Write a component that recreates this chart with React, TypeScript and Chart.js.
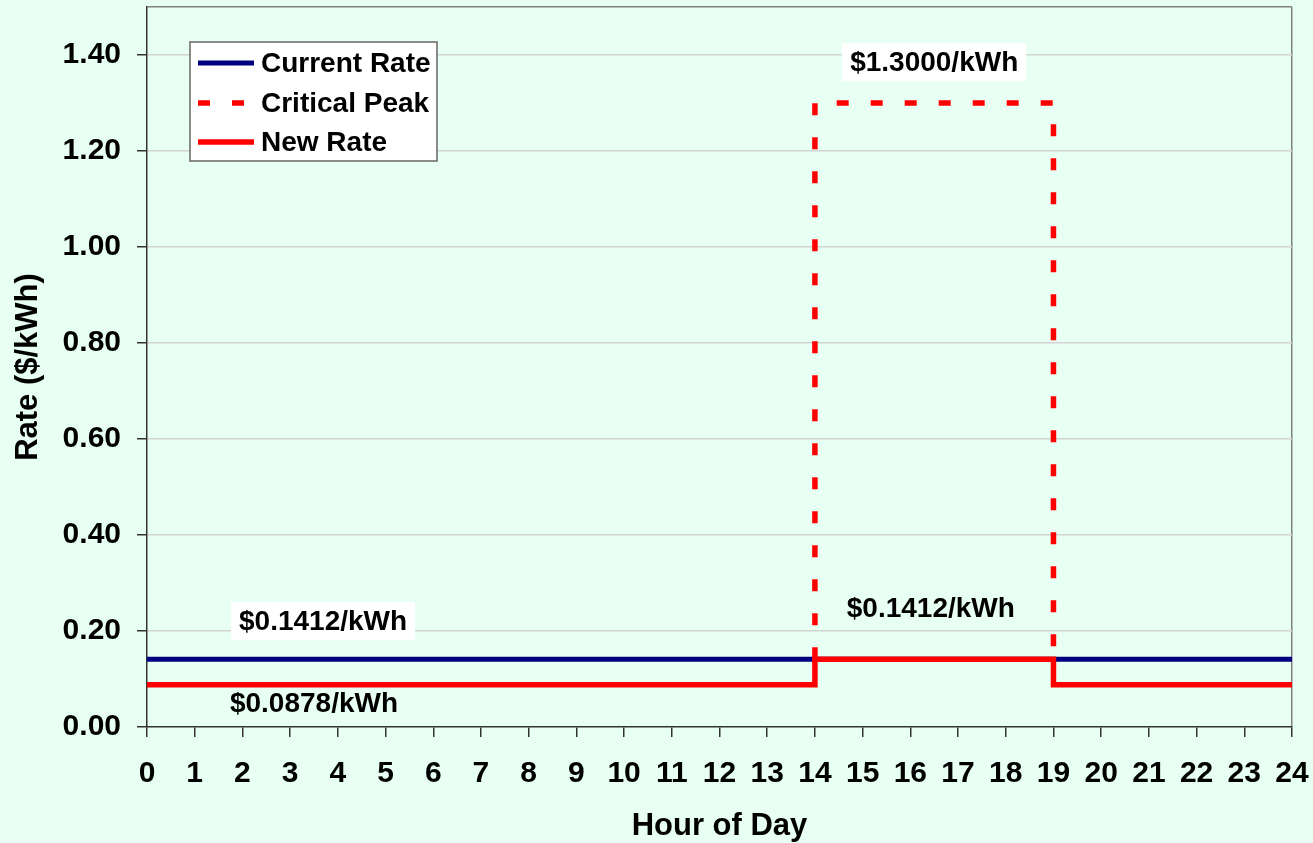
import React, { useEffect, useRef } from "react";
import { Chart, registerables } from "chart.js";

Chart.register(...registerables);

// ---- Data ----
const hourTicks = [0, 1, 2, 3, 4, 5, 6, 7, 8, 9, 10, 11, 12, 13, 14, 15, 16, 17, 18, 19, 20, 21, 22, 23, 24];
const yTicks = [0, 0.2, 0.4, 0.6, 0.8, 1.0, 1.2, 1.4];

const currentRateX = [0, 24];
const currentRateY = [0.1412, 0.1412];

const criticalPeakX = [14, 14, 19, 19];
const criticalPeakY = [0.1412, 1.3, 1.3, 0.1412];

const newRateX = [0, 14, 14, 19, 19, 24];
const newRateY = [0.0878, 0.0878, 0.1412, 0.1412, 0.0878, 0.0878];

const labelTexts = ["$1.3000/kWh", "$0.1412/kWh", "$0.0878/kWh", "$0.1412/kWh"];
const labelX = [16.5, 3.69, 3.5, 16.43];
const labelY = [1.385, 0.221, 0.05, 0.248];
const labelBoxed = [true, true, false, false];

const FONT = "'Liberation Sans', Arial, sans-serif";
const FS_TICK = 30;
const FS_TITLE = 31;
const FS_TEXT = 28;
const BG = "#E8FFF3";

const toPts = (xs: number[], ys: number[]) => xs.map((x, i) => ({ x, y: ys[i] }));

const labelPlugin = {
  id: "valueLabels",
  afterDatasetsDraw(chart: any) {
    const { ctx, scales } = chart;
    ctx.save();
    ctx.font = `bold ${FS_TEXT}px ${FONT}`;
    ctx.textAlign = "center";
    ctx.textBaseline = "middle";
    labelTexts.forEach((t, i) => {
      const px = scales.x.getPixelForValue(labelX[i]);
      const py = scales.y.getPixelForValue(labelY[i]);
      const w = ctx.measureText(t).width;
      if (labelBoxed[i]) {
        ctx.fillStyle = "#ffffff";
        ctx.fillRect(px - w / 2 - 8, py - 19, w + 16, 38);
      }
      ctx.fillStyle = "#000000";
      ctx.fillText(t, px, py + 1);
    });
    ctx.restore();
  },
};

const legendPlugin = {
  id: "boxLegend",
  afterDraw(chart: any) {
    const { ctx, chartArea } = chart;
    const left = chartArea.left + 43;
    const top = chartArea.top + 35;
    const w = 247;
    const h = 119;
    ctx.save();
    ctx.fillStyle = "#ffffff";
    ctx.fillRect(left, top, w, h);
    ctx.strokeStyle = "#666666";
    ctx.lineWidth = 1.5;
    ctx.strokeRect(left, top, w, h);
    const rowsY = [21, 61, 100];
    [0, 1, 2].forEach((di, r) => {
      const ds = chart.data.datasets[di];
      const y = top + rowsY[r];
      ctx.beginPath();
      ctx.strokeStyle = ds.borderColor;
      ctx.lineWidth = ds.borderWidth;
      ctx.setLineDash(ds.borderDash || []);
      ctx.moveTo(left + 8, y);
      ctx.lineTo(left + 64, y);
      ctx.stroke();
      ctx.setLineDash([]);
      ctx.fillStyle = "#000";
      ctx.font = `bold ${FS_TEXT}px ${FONT}`;
      ctx.textAlign = "left";
      ctx.textBaseline = "middle";
      ctx.fillText(ds.label, left + 71, y + 1);
    });
    ctx.restore();
  },
};

const bgPlugin = {
  id: "bg",
  beforeDraw(chart: any) {
    const { ctx, width, height } = chart;
    ctx.save();
    ctx.fillStyle = BG;
    ctx.fillRect(0, 0, width, height);
    ctx.restore();
  },
};

export default function App() {
  const ref = useRef<HTMLCanvasElement | null>(null);

  useEffect(() => {
    document.body.style.margin = "0";
    document.body.style.background = BG;
    if (!ref.current) return;
    const chart = new Chart(ref.current, {
      type: "line",
      data: {
        datasets: [
          {
            label: "Current Rate",
            data: toPts(currentRateX, currentRateY),
            borderColor: "#000080",
            borderWidth: 5,
            pointRadius: 0,
            fill: false,
            order: 3,
          } as any,
          {
            label: "Critical Peak",
            data: toPts(criticalPeakX, criticalPeakY),
            borderColor: "#FF0000",
            borderWidth: 5.5,
            borderDash: [12, 22],
            pointRadius: 0,
            fill: false,
            order: 2,
          },
          {
            label: "New Rate",
            data: toPts(newRateX, newRateY),
            borderColor: "#FF0000",
            borderWidth: 5.5,
            pointRadius: 0,
            fill: false,
            order: 1,
          },
        ],
      },
      options: {
        animation: false,
        responsive: false,
        layout: { padding: { left: 0, right: 21, top: 7, bottom: 0 } },
        plugins: {
          legend: { display: false },
          tooltip: { enabled: false },
        },
        scales: {
          x: {
            type: "linear",
            min: 0,
            max: 24,
            afterBuildTicks: (s: any) => {
              s.ticks = hourTicks.map((v) => ({ value: v }));
            },
            afterFit: (s: any) => {
              s.height = 116;
              s.paddingLeft = 0;
              s.paddingRight = 0;
            },
            ticks: {
              autoSkip: false,
              maxRotation: 0,
              padding: 19,
              color: "#000",
              font: { family: FONT, size: FS_TICK, weight: "bold" },
            },
            grid: {
              drawOnChartArea: true,
              color: (c: any) => (c.tick && c.tick.value === 24 ? "#808080" : "rgba(0,0,0,0)"),
              tickColor: "#333333",
              tickLength: 10,
              lineWidth: 1.5,
            },
            border: { display: true, color: "#333333", width: 1.5 },
            title: {
              display: true,
              text: "Hour of Day",
              color: "#000",
              font: { family: FONT, size: FS_TITLE, weight: "bold", lineHeight: 1.05 },
              padding: { top: 0, bottom: 0 },
            },
          },
          y: {
            type: "linear",
            min: 0,
            max: 1.5,
            afterBuildTicks: (s: any) => {
              s.ticks = [...yTicks, 1.5].map((v) => ({ value: v }));
            },
            afterFit: (s: any) => {
              s.width = 147;
              s.paddingTop = 0;
              s.paddingBottom = 0;
            },
            ticks: {
              padding: 16,
              color: "#000",
              font: { family: FONT, size: FS_TICK, weight: "bold" },
              callback: (v: any) => (Math.abs(v - 1.5) < 1e-9 ? "" : Number(v).toFixed(2)),
            },
            grid: {
              color: (c: any) => {
                const v = c.tick ? c.tick.value : 0;
                if (Math.abs(v - 1.5) < 1e-9) return "#808080";
                if (v === 0) return "rgba(0,0,0,0)";
                return "#d3d3d3";
              },
              tickColor: (c: any) => {
                const v = c.tick ? c.tick.value : 0;
                return Math.abs(v - 1.5) < 1e-9 ? "rgba(0,0,0,0)" : "#333333";
              },
              tickLength: 10,
              lineWidth: 1.5,
            },
            border: { display: true, color: "#333333", width: 1.5 },
            title: {
              display: true,
              text: "Rate ($/kWh)",
              color: "#000",
              font: { family: FONT, size: FS_TITLE, weight: "bold" },
              padding: { top: 10, bottom: 0 },
            },
          },
        },
      },
      plugins: [bgPlugin, labelPlugin, legendPlugin],
    });
    return () => chart.destroy();
  }, []);

  return (
    <div style={{ width: 1313, height: 843 }}>
      <canvas ref={ref} width={1313} height={843} style={{ display: "block" }} />
    </div>
  );
}
